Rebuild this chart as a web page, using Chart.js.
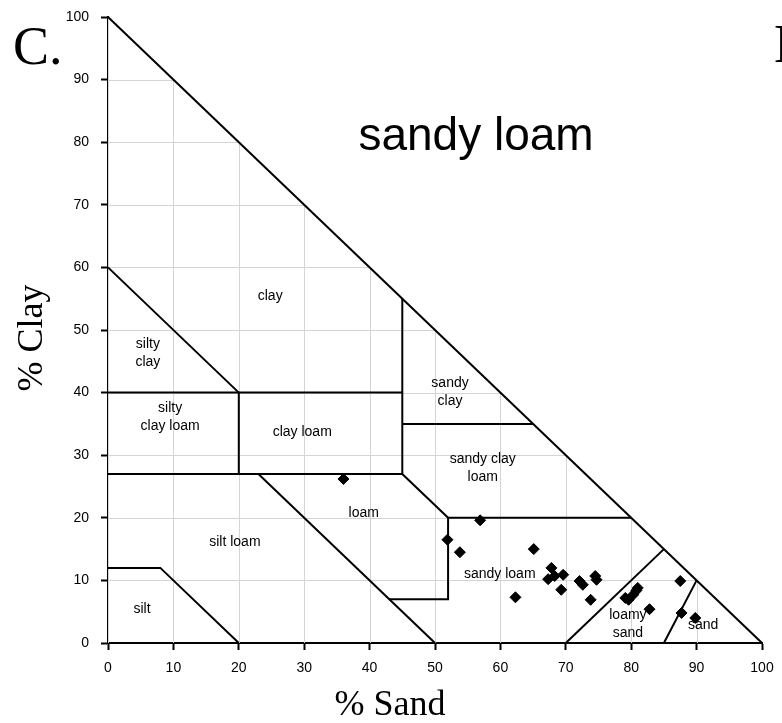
<!DOCTYPE html>
<html>
<head>
<meta charset="utf-8">
<script src="https://cdn.jsdelivr.net/npm/chart.js@4"></script>
<style>
  html, body { margin: 0; padding: 0; background: #fff; }
  #wrap { width: 782px; height: 723px; }
</style>
</head>
<body>
<div id="wrap"><canvas id="chart" width="782" height="723"></canvas></div>
<script>
// % sand / % clay of the samples
const sandValues = [36.0, 51.9, 53.8, 56.9, 62.3, 65.1, 67.8, 67.3, 68.3, 69.6, 69.3, 72.1, 72.6,
                    74.5, 74.7, 73.8, 79.1, 79.6, 80.3, 80.8, 81.0, 82.8, 87.5, 87.7, 89.8];
const clayValues = [26.2, 16.5, 14.5, 19.6, 7.3, 15.0, 12.0, 10.2, 10.7, 10.9, 8.5, 9.9, 9.3,
                    10.7, 10.1, 6.9, 7.2, 6.9, 7.7, 8.4, 8.8, 5.4, 9.9, 4.8, 4.0];

// texture class boundaries, as [sand, clay] polylines
const boundaries = [
  [[0, 100], [100, 0]],
  [[0, 60], [20, 40]],
  [[0, 40], [45, 40]],
  [[20, 40], [20, 27]],
  [[0, 27], [45, 27]],
  [[45, 55], [45, 27], [52, 20], [52, 7], [43, 7]],
  [[23, 27], [50, 0]],
  [[45, 35], [65, 35]],
  [[52, 20], [80, 20]],
  [[0, 12], [8, 12], [20, 0]],
  [[70, 0], [85, 15]],
  [[85, 0], [90, 10]]
];

// class names and where they sit (sand, clay)
const classNames = [['clay'], ['silty', 'clay'], ['silty', 'clay loam'], ['clay loam'], ['sandy', 'clay'],
                    ['sandy clay', 'loam'], ['loam'], ['silt loam'], ['silt'], ['sandy loam'],
                    ['loamy', 'sand'], ['sand']];
const classSand = [24.8, 6.1, 9.5, 29.7, 52.3, 57.3, 39.1, 19.4, 5.2, 59.9, 79.5, 91.0];
const classClay = [55.4, 46.3, 36.1, 33.7, 40.1, 28.0, 20.8, 16.1, 5.4, 11.0, 3.0, 2.9];

const axisTicks = [0, 10, 20, 30, 40, 50, 60, 70, 80, 90, 100];
const panelTitle = 'sandy loam';
const xTitle = '% Sand';
const yTitle = '% Clay';

const serif = '"Liberation Serif", "Times New Roman", serif';
const sans = '"Liberation Sans", Arial, sans-serif';

const datasets = boundaries.map(line => ({
  type: 'scatter',
  data: line.map(p => ({ x: p[0], y: p[1] })),
  showLine: true,
  borderColor: '#000',
  borderWidth: 2,
  pointRadius: 0,
  tension: 0,
  clip: false
}));

datasets.push({
  type: 'scatter',
  data: sandValues.map((s, i) => ({ x: s, y: clayValues[i] })),
  pointStyle: 'rectRot',
  pointRadius: 5.5,
  backgroundColor: '#000',
  borderColor: '#000',
  borderWidth: 1
});

// light grid, only inside the triangle
const triangleGrid = {
  id: 'triangleGrid',
  beforeDatasetsDraw(chart) {
    const { ctx, scales: { x, y } } = chart;
    ctx.save();
    ctx.beginPath();
    ctx.moveTo(x.getPixelForValue(0), y.getPixelForValue(0));
    ctx.lineTo(x.getPixelForValue(0), y.getPixelForValue(100));
    ctx.lineTo(x.getPixelForValue(100), y.getPixelForValue(0));
    ctx.closePath();
    ctx.clip();
    ctx.strokeStyle = '#d4d4d4';
    ctx.lineWidth = 1;
    axisTicks.forEach(v => {
      const px = Math.round(x.getPixelForValue(v)) + 0.5;
      const py = Math.round(y.getPixelForValue(v)) + 0.5;
      ctx.beginPath();
      ctx.moveTo(px, y.top); ctx.lineTo(px, y.bottom);
      ctx.moveTo(x.left, py); ctx.lineTo(x.right, py);
      ctx.stroke();
    });
    ctx.restore();
  }
};

// class names, axis titles, panel letters and the big title
const labelsPlugin = {
  id: 'labelsPlugin',
  afterDraw(chart) {
    const { ctx, scales: { x, y } } = chart;
    ctx.save();
    ctx.fillStyle = '#000';
    ctx.textAlign = 'center';
    ctx.textBaseline = 'middle';
    ctx.font = '14px ' + sans;
    classNames.forEach((lines, i) => {
      const cx = x.getPixelForValue(classSand[i]);
      const cy = y.getPixelForValue(classClay[i]);
      const lh = 18;
      lines.forEach((t, j) => {
        ctx.fillText(t, cx, cy + (j - (lines.length - 1) / 2) * lh);
      });
    });

    ctx.textBaseline = 'alphabetic';
    ctx.font = '46px ' + sans;
    ctx.fillText(panelTitle, 476, 150);

    // axis titles
    ctx.font = '36px ' + serif;
    ctx.fillText(xTitle, 390, 715);
    ctx.save();
    ctx.translate(42, 338);
    ctx.rotate(-Math.PI / 2);
    ctx.fillText(yTitle, 0, 0);
    ctx.restore();

    ctx.textAlign = 'left';
    ctx.font = '54px ' + serif;
    ctx.fillText('C.', 13, 64);
    ctx.fillText('D.', 774, 62);
    ctx.restore();
  }
};

new Chart(document.getElementById('chart'), {
  type: 'scatter',
  data: { datasets },
  plugins: [triangleGrid, labelsPlugin],
  options: {
    responsive: false,
    animation: false,
    layout: { padding: { left: 0, right: 20, top: 17, bottom: 0 } },
    plugins: { legend: { display: false }, tooltip: { enabled: false } },
    scales: {
      x: {
        type: 'linear', min: 0, max: 100,
        afterFit: s => { s.height = 80; s.paddingLeft = 0; s.paddingRight = 0; },
        afterBuildTicks: s => { s.ticks = axisTicks.map(v => ({ value: v })); },
        ticks: { color: '#000', font: { family: sans, size: 14 }, padding: 10 },
        grid: { drawOnChartArea: false, drawTicks: true, tickLength: 7, tickColor: '#000', tickWidth: 2 },
        border: { display: true, color: '#000', width: 2 }
      },
      y: {
        type: 'linear', min: 0, max: 100,
        afterFit: s => { s.width = 108; s.paddingTop = 0; s.paddingBottom = 0; },
        afterBuildTicks: s => { s.ticks = axisTicks.map(v => ({ value: v })); },
        ticks: { color: '#000', font: { family: sans, size: 14 }, padding: 12 },
        grid: { drawOnChartArea: false, drawTicks: true, tickLength: 7, tickColor: '#000', tickWidth: 2 },
        border: { display: true, color: '#000', width: 2 }
      }
    }
  }
});
</script>
</body>
</html>
